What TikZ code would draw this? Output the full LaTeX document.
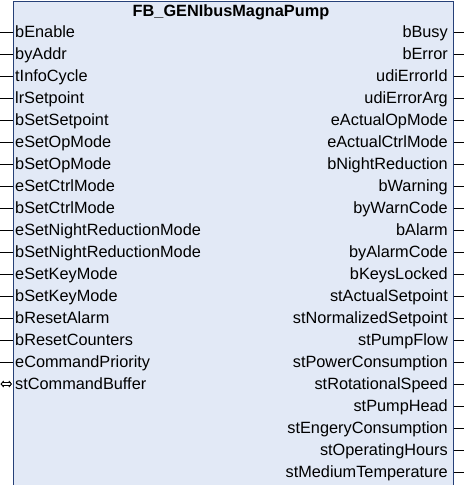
\documentclass[tikz,border=0pt]{standalone}
\usepackage{fontspec}
\setmainfont{Liberation Sans}
\usetikzlibrary{arrows.meta}
\definecolor{fbfill}{RGB}{226,233,246}
\definecolor{fbdraw}{RGB}{38,64,120}

\begin{document}
\begin{tikzpicture}[
  x=1pt,y=-1pt,
  font=\fontsize{16.3}{19}\selectfont,
  fb/.style={draw=fbdraw,fill=fbfill,line width=1pt,rectangle,inner sep=0pt,minimum width=440pt,minimum height=484pt,anchor=north west},
  ttl/.style={font=\fontsize{16.3}{19}\selectfont\bfseries,anchor=base,inner sep=0pt},
  inlbl/.style={anchor=base west,inner sep=0pt},
  outlbl/.style={anchor=base east,inner sep=0pt},
  pin/.style={line width=1pt,black},
  inout/.style={double,double distance=1.6pt,line width=0.9pt,{Straight Barb[length=2.5pt,width=6pt,line width=0.9pt]}-{Straight Barb[length=2.5pt,width=6pt,line width=0.9pt]}},
]
\useasboundingbox (0,0) rectangle (464,485);
% function block
\node[fb] (fb) at (12.5,0.5) {};
\node[ttl] (title) at (231,16.5) {FB\_GENIbusMagnaPump};

% inputs (left side)
\foreach \lbl [count=\i] in {bEnable,byAddr,tInfoCycle,lrSetpoint,bSetSetpoint,eSetOpMode,bSetOpMode,eSetCtrlMode,bSetCtrlMode,eSetNightReductionMode,bSetNightReductionMode,eSetKeyMode,bSetKeyMode,bResetAlarm,bResetCounters,eCommandPriority}{
  \coordinate (in\i) at (0,{10+22*\i});
  \node[inlbl] (inlbl\i) at (15,{15.5+22*\i}) {\lbl};
  \draw[pin] (in\i) -- (in\i -| fb.west);
}
% in/out pin
\coordinate (io) at (0.5,384);
\node[inlbl] (iolbl) at (15,389.5) {stCommandBuffer};
\draw[inout] (io) -- ([xshift=-0.5pt]io -| fb.west);

% outputs (right side)
\foreach \lbl [count=\i] in {bBusy,bError,udiErrorId,udiErrorArg,eActualOpMode,eActualCtrlMode,bNightReduction,bWarning,byWarnCode,bAlarm,byAlarmCode,bKeysLocked,stActualSetpoint,stNormalizedSetpoint,stPumpFlow,stPowerConsumption,stRotationalSpeed,stPumpHead,stEngeryConsumption,stOperatingHours,{stMediumTemperature\ }}{
  \coordinate (out\i) at (464,{10+22*\i});
  \node[outlbl] (outlbl\i) at (448,{15.5+22*\i}) {\lbl};
  \draw[pin] (out\i -| fb.east) -- (out\i);
}
\end{tikzpicture}
\end{document}
